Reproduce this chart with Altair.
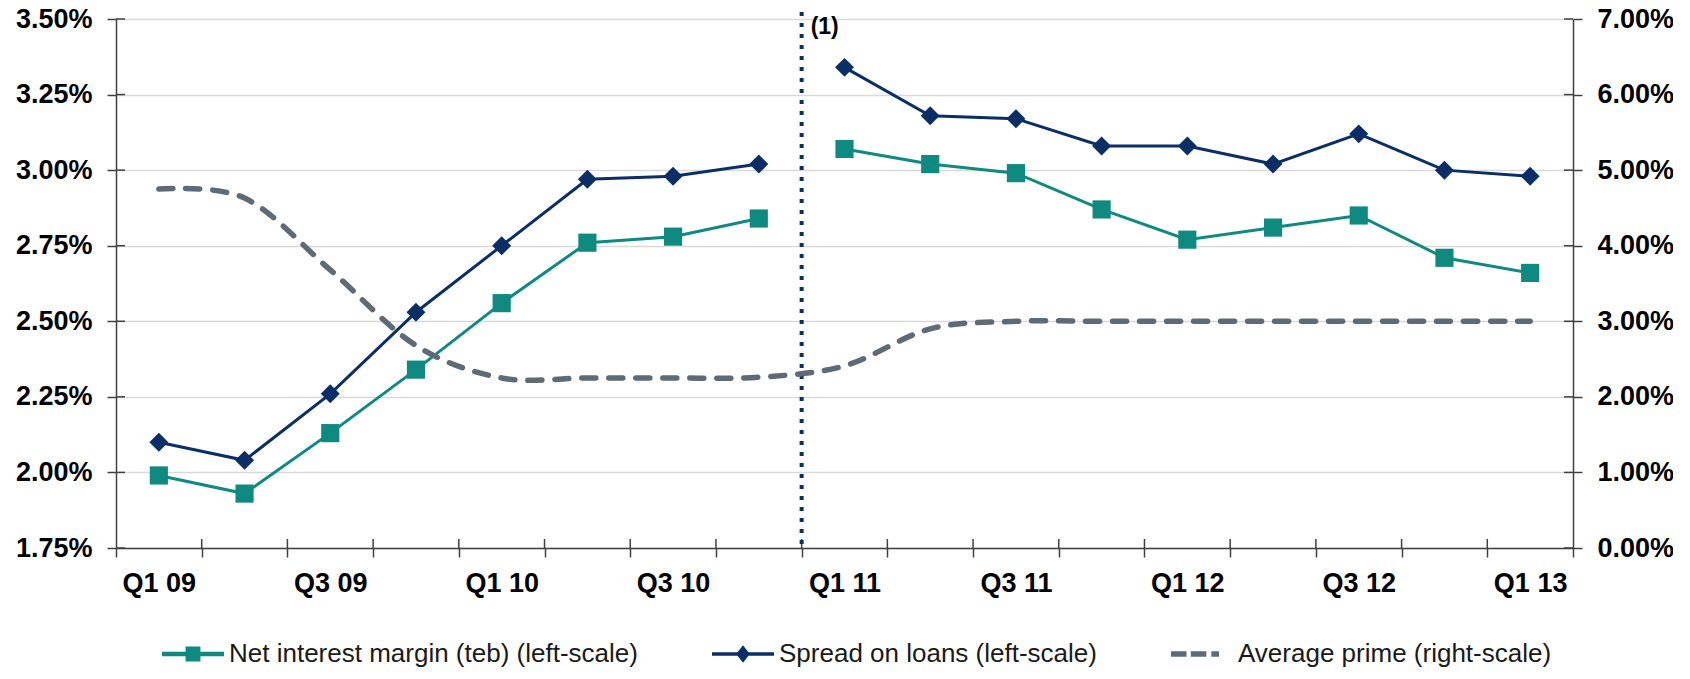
import json
import altair as alt
import pandas as pd

# ---------------- data ----------------
quarters = ["Q1 09", "Q2 09", "Q3 09", "Q4 09", "Q1 10", "Q2 10", "Q3 10", "Q4 10",
            "Q1 11", "Q2 11", "Q3 11", "Q4 11", "Q1 12", "Q2 12", "Q3 12", "Q4 12", "Q1 13"]
nim = [1.99, 1.93, 2.13, 2.34, 2.56, 2.76, 2.78, 2.84,
       3.07, 3.02, 2.99, 2.87, 2.77, 2.81, 2.85, 2.71, 2.66]
spread = [2.10, 2.04, 2.26, 2.53, 2.75, 2.97, 2.98, 3.02,
          3.34, 3.18, 3.17, 3.08, 3.08, 3.02, 3.12, 3.00, 2.98]
prime = [4.75, 4.63, 3.68, 2.68, 2.25, 2.25, 2.25, 2.26,
         2.41, 2.90, 3.00, 3.00, 3.00, 3.00, 3.00, 3.00, 3.00]
segment = [0, 0, 0, 0, 0, 0, 0, 0, 1, 1, 1, 1, 1, 1, 1, 1, 1]
series_names = ["Net interest margin (teb) (left-scale)",
                "Spread on loans (left-scale)",
                "Average prime (right-scale)"]
left_ticks = [1.75, 2.00, 2.25, 2.50, 2.75, 3.00, 3.25, 3.50]
right_ticks = [0, 1, 2, 3, 4, 5, 6, 7]
x_label_quarters = ["Q1 09", "Q3 09", "Q1 10", "Q3 10", "Q1 11", "Q3 11", "Q1 12", "Q3 12", "Q1 13"]
break_quarter = ["Q1 11"]
break_top = [3.523]
break_bottom = [1.75]
note_text = ["(1)"]
note_y = [3.475]

# ---------------- style ----------------
TEAL = "#0F8A80"
NAVY = "#0B2E66"
GREY = "#5E6A76"
FONT = "Liberation Sans, Arial, sans-serif"
AX = "#404040"
LBL = 27
W, H = 1457, 529
TK = 9  # half-length of the crossing tick marks

df = pd.DataFrame({"q": quarters, "nim": nim, "spread": spread, "prime": prime, "seg": segment})
long_df = pd.concat([
    pd.DataFrame({"q": quarters, "v": nim, "series": series_names[0]}),
    pd.DataFrame({"q": quarters, "v": spread, "series": series_names[1]}),
])
break_df = pd.DataFrame({"q": break_quarter, "top": break_top, "bot": break_bottom})
note_df = pd.DataFrame({"q": break_quarter, "y": note_y, "t": note_text})
xtick_df = pd.DataFrame({"q": quarters[1:]})
ltick_df = pd.DataFrame({"v": left_ticks})
rtick_df = pd.DataFrame({"v": right_ticks})

xscale = alt.Scale(type="band", domain=quarters, paddingInner=0, paddingOuter=0)
label_expr = "indexof(" + json.dumps(x_label_quarters) + ", datum.value) >= 0 ? datum.value : ''"
x_axis = alt.Axis(title=None, labelExpr=label_expr, tickBand="extent", labelAngle=0,
                  labelFont=FONT, labelFontSize=LBL, labelFontWeight="bold", labelColor="#000000",
                  domainColor=AX, domainWidth=1.5, tickColor=AX, tickWidth=1.5, tickSize=TK,
                  labelPadding=13, labelOverlap=False, grid=False)
x_mid = alt.X("q:N", scale=xscale, axis=x_axis, bandPosition=0.5)
x_edge = alt.X("q:N", scale=xscale, axis=x_axis, bandPosition=0)

lscale = alt.Scale(domain=[1.75, 3.5], nice=False, zero=False)
l_axis = alt.Axis(title=None, values=left_ticks, labelExpr="format(datum.value, '.2f') + '%'",
                  labelFont=FONT, labelFontSize=LBL, labelFontWeight="bold", labelColor="#000000",
                  domainColor=AX, domainWidth=1.5, tickColor=AX, tickWidth=1.5, tickSize=TK,
                  labelPadding=15, grid=True, gridColor="#D9D9D9", gridWidth=1.5)
rscale = alt.Scale(domain=[0, 7], nice=False, zero=True)
r_axis = alt.Axis(title=None, orient="right", values=right_ticks,
                  labelExpr="format(datum.value, '.2f') + '%'",
                  labelFont=FONT, labelFontSize=LBL, labelFontWeight="bold", labelColor="#000000",
                  domainColor=AX, domainWidth=1.5, tickColor=AX, tickWidth=1.5, tickSize=TK,
                  labelPadding=15, grid=False)

nim_line = alt.Chart(df).mark_line(color=TEAL, strokeWidth=3).encode(
    x=x_mid, y=alt.Y("nim:Q", scale=lscale, axis=l_axis), detail="seg:N")
spread_line = alt.Chart(df).mark_line(color=NAVY, strokeWidth=3).encode(
    x=x_mid, y=alt.Y("spread:Q", scale=lscale, axis=l_axis), detail="seg:N")
nim_pts = alt.Chart(df).mark_point(shape="square", filled=True, color=TEAL, size=330, opacity=1).encode(
    x=x_mid, y=alt.Y("nim:Q", scale=lscale, axis=l_axis))
spread_pts = alt.Chart(df).mark_point(shape="diamond", filled=True, color=NAVY, size=360, opacity=1).encode(
    x=x_mid, y=alt.Y("spread:Q", scale=lscale, axis=l_axis))

vrule = alt.Chart(break_df).mark_rule(color=NAVY, strokeWidth=4, strokeDash=[4, 7]).encode(
    x=x_edge, y=alt.Y("top:Q", scale=lscale, axis=l_axis), y2="bot:Q")
note = alt.Chart(note_df).mark_text(align="left", baseline="middle", dx=9, fontSize=23,
                                     fontWeight="bold", font=FONT, color="#000000").encode(
    x=x_edge, y=alt.Y("y:Q", scale=lscale, axis=l_axis), text="t:N")

# inner halves of the crossing tick marks
x_inner = alt.Chart(xtick_df).mark_rule(color=AX, strokeWidth=1.5).encode(
    x=x_edge, y=alt.value(H - TK), y2=alt.value(H))
l_inner = alt.Chart(ltick_df).mark_rule(color=AX, strokeWidth=1.5).encode(
    y=alt.Y("v:Q", scale=lscale, axis=l_axis), x=alt.value(0), x2=alt.value(TK))
r_inner = alt.Chart(rtick_df).mark_rule(color=AX, strokeWidth=1.5).encode(
    y=alt.Y("v:Q", scale=rscale, axis=r_axis), x=alt.value(W - TK), x2=alt.value(W))

legend_paths = [
    "M-1,-0.07H1V0.07H-1Z M-0.24,-0.24H0.24V0.24H-0.24Z",
    "M-1,-0.06H1V0.06H-1Z M0,-0.28L0.22,0L0,0.28L-0.22,0Z",
    "M-1,-0.09H-0.5V0.09H-1Z M-0.36,-0.09H0.14V0.09H-0.36Z M0.3,-0.09H0.55V0.09H0.3Z",
]
leg = alt.Legend(title=None, orient="none", legendX=46, legendY=604, direction="horizontal",
                 symbolSize=3844, symbolOpacity=1, symbolStrokeWidth=0,
                 labelFont=FONT, labelFontSize=26, labelColor="#1A1A1A",
                 columnPadding=74, labelOffset=5, labelLimit=0)
legend_layer = alt.Chart(long_df).mark_point(filled=True, opacity=0, size=10).encode(
    x=x_mid, y=alt.Y("v:Q", scale=lscale, axis=l_axis),
    color=alt.Color("series:N", scale=alt.Scale(domain=series_names, range=[TEAL, NAVY, GREY]), legend=leg),
    shape=alt.Shape("series:N", scale=alt.Scale(domain=series_names, range=legend_paths), legend=leg),
)

left = alt.layer(l_inner, x_inner, nim_line, spread_line, nim_pts, spread_pts, vrule, note, legend_layer)

prime_line = alt.Chart(df).mark_line(color=GREY, strokeWidth=5.5, strokeDash=[14, 13],
                                     strokeCap="round", interpolate="cardinal").encode(
    x=x_mid, y=alt.Y("prime:Q", scale=rscale, axis=r_axis))
right = alt.layer(r_inner, prime_line)

chart = alt.layer(left, right).resolve_scale(y="independent").properties(
    width=W, height=H,
    autosize=alt.AutoSizeParams(type="none"),
    padding={"left": 108, "top": 11, "right": 100, "bottom": 123},
).configure_view(stroke=None)

chart.save("out.html", embed_options={"renderer": "svg", "actions": False})
